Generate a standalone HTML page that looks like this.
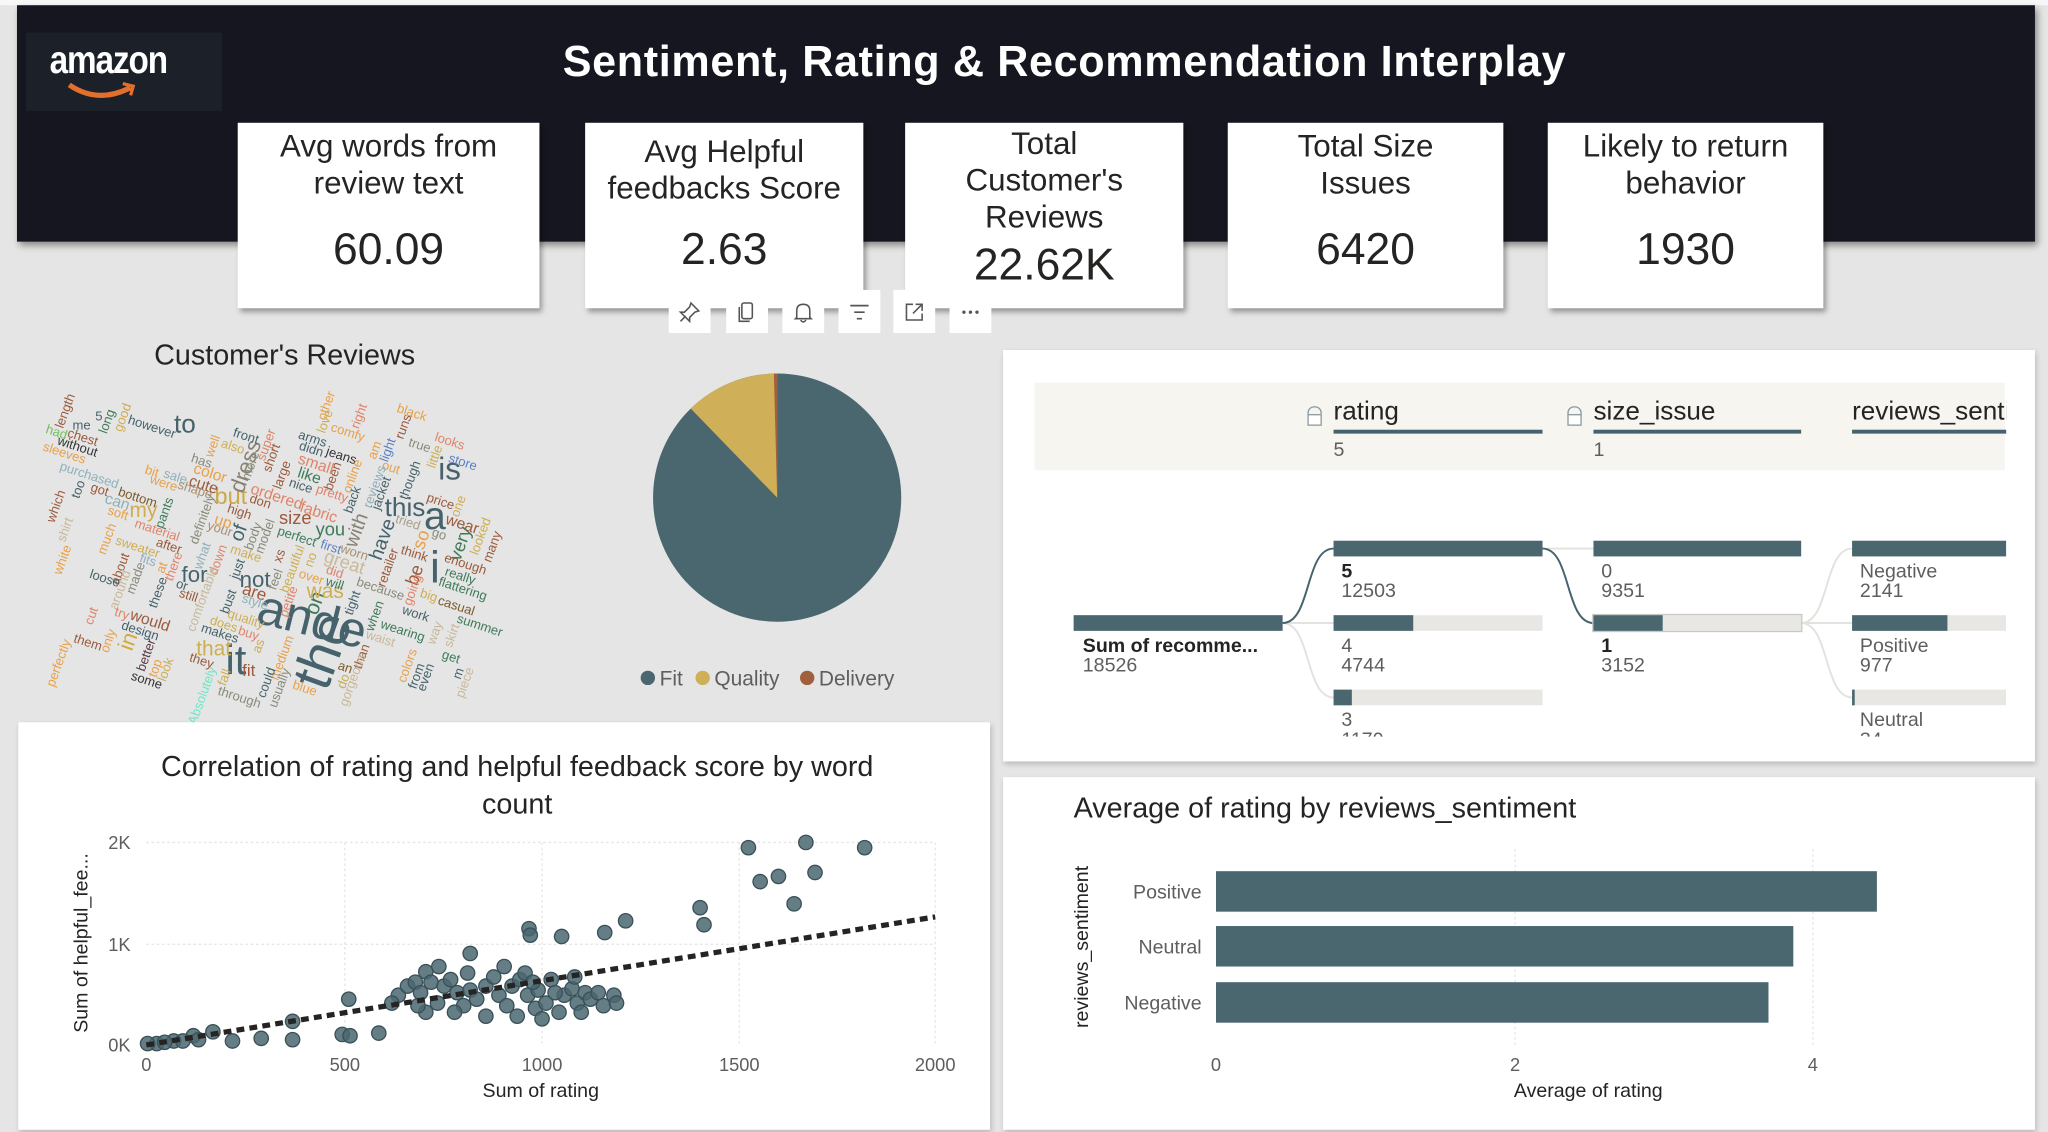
<!DOCTYPE html>
<html><head><meta charset="utf-8"><style>
html,body{margin:0;padding:0;width:2048px;height:1132px;overflow:hidden;background:#e4e5e4}
#s{position:absolute;left:0;top:0;width:1568px;height:867px;transform:scale(1.306122);transform-origin:0 0;font-family:"Liberation Sans",sans-serif;color:#252423}
.a{position:absolute}
.card{position:absolute;background:#fff;top:94px;height:142px;box-shadow:2px 3px 4px rgba(0,0,0,.35);text-align:center}
.card .t{font-size:24px;line-height:28px;margin-top:5px;color:#252423}
.card .v{position:absolute;left:0;right:0;top:78px;font-size:34px;color:#252423}
.ic{position:absolute;top:222px;width:32px;height:33px;background:#fff}
.ic svg{position:absolute;left:7px;top:8px}
.w{position:absolute;left:calc(var(--x)*0.4883px);top:calc(var(--y)*0.2552px + 252.7px);transform:translate(-50%,-50%) rotate(var(--r,0deg));font-size:10px;white-space:nowrap;font-family:"Liberation Sans",sans-serif;line-height:1}
.v70{--r:-70deg}
.d15{--r:18deg}
.lbl{position:absolute;font-size:15px;color:#605e5c;line-height:15px}
.lb{position:absolute;font-size:15px;color:#252423;font-weight:bold;line-height:15px}
.bar{position:absolute;height:12px;background:#e8e7e3}
.bar i{position:absolute;left:0;top:0;bottom:0;background:#4a666f}
</style></head><body><div id="s">
<div class="a" style="left:0;top:0;width:1568px;height:4px;background:#f7f7f7"></div>
<div class="a" style="left:13px;top:4px;width:1545px;height:181px;background:#15161f;box-shadow:2px 3px 5px rgba(0,0,0,.4)"></div>
<div class="a" style="left:20px;top:25px;width:150px;height:60px;background:#1c2129"></div>
<div class="a" style="left:38px;top:30px;font-size:30px;color:#fff;font-weight:bold;letter-spacing:-1px;transform:scaleX(.85);transform-origin:0 0">amazon</div>
<svg class="a" style="left:50px;top:62px" width="60" height="16"><path d="M3 3 Q25 18 50 5" stroke="#e36f2c" stroke-width="4" fill="none"/><path d="M44 2 L52 4 L50 11" stroke="#e36f2c" stroke-width="2.5" fill="none"/></svg>
<div class="a" style="left:360px;top:28px;width:910px;text-align:center;font-size:33px;font-weight:bold;color:#fff;letter-spacing:.5px">Sentiment, Rating &amp; Recommendation Interplay</div>

<div class="card" style="left:182px;width:231px"><div class="t">Avg words from<br>review text</div><div class="v">60.09</div></div>
<div class="card" style="left:448px;width:213px"><div class="t" style="margin-top:9px">Avg Helpful<br>feedbacks Score</div><div class="v">2.63</div></div>
<div class="card" style="left:693px;width:213px"><div class="t" style="margin-top:3px">Total<br>Customer's<br>Reviews</div><div class="v" style="top:90px">22.62K</div></div>
<div class="card" style="left:940px;width:211px"><div class="t">Total Size<br>Issues</div><div class="v">6420</div></div>
<div class="card" style="left:1185px;width:211px"><div class="t">Likely to return<br>behavior</div><div class="v">1930</div></div>

<div class="ic" style="left:512px"><svg width="18" height="18"><path d="M10 2 L16 8 L13 9 L9 13 L9 16 L2 9 L5 9 L9 5 Z M6 12 L2 16" stroke="#555" stroke-width="1.2" fill="none"/></svg></div>
<div class="ic" style="left:556px"><svg width="18" height="18"><rect x="5" y="2" width="8" height="12" rx="1.5" stroke="#555" stroke-width="1.2" fill="none"/><path d="M3 5 L3 16 L11 16" stroke="#555" stroke-width="1.2" fill="none"/></svg></div>
<div class="ic" style="left:599px"><svg width="18" height="18"><path d="M4 13 L4 8 Q4 3 9 3 Q14 3 14 8 L14 13 L15 14 L3 14 Z M7 15 Q9 18 11 15" stroke="#555" stroke-width="1.2" fill="none"/></svg></div>
<div class="ic" style="left:642px"><svg width="18" height="18"><path d="M2 4 H16 M5 9 H13 M7 14 H11" stroke="#555" stroke-width="1.3"/></svg></div>
<div class="ic" style="left:684px"><svg width="18" height="18"><path d="M8 3 H3 V15 H15 V10 M10 3 H15 V8 M15 3 L8 10" stroke="#555" stroke-width="1.2" fill="none"/></svg></div>
<div class="ic" style="left:727px"><svg width="18" height="18"><circle cx="4" cy="9" r="1.3" fill="#555"/><circle cx="9" cy="9" r="1.3" fill="#555"/><circle cx="14" cy="9" r="1.3" fill="#555"/></svg></div>

<div class="a" style="left:118px;top:259px;font-size:22px;color:#252423">Customer's Reviews</div>

<div class="a" style="left:0;top:0;width:420px;height:560px">
<div class="w v70" style="--x:505;--y:960;font-size:42px;color:#46626c">the</div>
<div class="w" style="--x:490;--y:870;font-size:38px;color:#46626c;--r:14deg">ande</div>
<div class="w" style="--x:370;--y:990;font-size:32px;color:#46626c">it</div>
<div class="w" style="--x:682;--y:715;font-size:34px;color:#46626c">i</div>
<div class="w" style="--x:682;--y:560;font-size:30px;color:#46626c">a</div>
<div class="w" style="--x:705;--y:420;font-size:24px;color:#46626c">is</div>
<div class="w" style="--x:635;--y:535;font-size:20px;color:#46626c">this</div>
<div class="w" style="--x:290;--y:285;font-size:20px;color:#46626c">to</div>
<div class="w" style="--x:362;--y:500;font-size:18px;color:#c9a94a">but</div>
<div class="w v70" style="--x:385;--y:410;font-size:17px;color:#8a8275">dress</div>
<div class="w" style="--x:400;--y:750;font-size:17px;color:#46626c">not</div>
<div class="w" style="--x:305;--y:735;font-size:17px;color:#46626c">for</div>
<div class="w v70" style="--x:200;--y:935;font-size:17px;color:#d4a93a">in</div>
<div class="w v70" style="--x:495;--y:820;font-size:16px;color:#3f7a5a">on</div>
<div class="w v70" style="--x:560;--y:600;font-size:15px;color:#8a8275">with</div>
<div class="w v70" style="--x:600;--y:630;font-size:15px;color:#46626c">have</div>
<div class="w v70" style="--x:660;--y:630;font-size:14px;color:#e8a04a">so</div>
<div class="w v70" style="--x:720;--y:640;font-size:14px;color:#3f7a5a">very</div>
<div class="w v70" style="--x:650;--y:735;font-size:14px;color:#9b5a3c">be</div>
<div class="w" style="--x:510;--y:790;font-size:16px;color:#cfae52">was</div>
<div class="w" style="--x:335;--y:960;font-size:16px;color:#cfae52">that</div>
<div class="w v70" style="--x:375;--y:610;font-size:15px;color:#46626c">of</div>
<div class="w" style="--x:225;--y:545;font-size:16px;color:#cfae52">my</div>
<div class="w" style="--x:463;--y:560;font-size:14px;color:#9b5a3c">size</div>
<div class="w" style="--x:518;--y:598;font-size:14px;color:#3f7a5a">you</div>
<div class="w" style="--x:390;--y:1020;font-size:13px;color:#9b5a3c">fit</div>
<div class="w v70" style="--x:105;--y:245;color:#9b5a3c">length</div>
<div class="w" style="--x:128;--y:290;color:#46626c">me</div>
<div class="w" style="--x:155;--y:262;color:#46626c">5</div>
<div class="w v70" style="--x:170;--y:275;color:#3f7a5a">long</div>
<div class="w v70" style="--x:195;--y:265;color:#cfae52">good</div>
<div class="w d15" style="--x:238;--y:295;color:#46626c">however</div>
<div class="w d15" style="--x:88;--y:310;color:#6fbf5f">had</div>
<div class="w d15" style="--x:130;--y:325;color:#9b5a3c">chest</div>
<div class="w d15" style="--x:120;--y:355;color:#333">without</div>
<div class="w d15" style="--x:100;--y:375;color:#e8a04a">sleeves</div>
<div class="w d15" style="--x:385;--y:322;color:#46626c">front</div>
<div class="w v70" style="--x:335;--y:350;color:#e8a04a">well</div>
<div class="w d15" style="--x:365;--y:355;color:#cfae52">also</div>
<div class="w d15" style="--x:315;--y:395;color:#8a8a7a">has</div>
<div class="w v70" style="--x:420;--y:345;color:#e0836a">super</div>
<div class="w v70" style="--x:428;--y:385;color:#9b5a3c">short</div>
<div class="w v70" style="--x:395;--y:410;color:#8a8a7a">more</div>
<div class="w d15" style="--x:490;--y:330;color:#46626c">arms</div>
<div class="w d15" style="--x:488;--y:360;color:#46626c">didn</div>
<div class="w d15" style="--x:535;--y:380;color:#333">jeans</div>
<div class="w d15" style="--x:495;--y:400;color:#e0836a;font-size:12px">small</div>
<div class="w d15" style="--x:485;--y:435;color:#3f7a5a;font-size:12px">like</div>
<div class="w v70" style="--x:445;--y:435;color:#9b5a3c">large</div>
<div class="w d15" style="--x:470;--y:470;color:#46626c">nice</div>
<div class="w v70" style="--x:525;--y:440;color:#9b5a3c">been</div>
<div class="w v70" style="--x:555;--y:440;color:#e8a04a">online</div>
<div class="w d15" style="--x:520;--y:495;color:#e0836a">pretty</div>
<div class="w v70" style="--x:515;--y:230;color:#e8a04a">other</div>
<div class="w v70" style="--x:513;--y:275;color:#cfae52">love</div>
<div class="w d15" style="--x:545;--y:310;color:#e8a04a">comfy</div>
<div class="w v70" style="--x:565;--y:260;color:#e0836a">right</div>
<div class="w d15" style="--x:645;--y:250;color:#e8a04a">black</div>
<div class="w v70" style="--x:635;--y:290;color:#9b5a3c">runs</div>
<div class="w d15" style="--x:658;--y:350;color:#8a8a7a">true</div>
<div class="w d15" style="--x:705;--y:340;color:#e0836a">looks</div>
<div class="w v70" style="--x:590;--y:360;color:#e8a04a">am</div>
<div class="w v70" style="--x:610;--y:360;color:#5b7fc4">light</div>
<div class="w d15" style="--x:612;--y:415;color:#e8a04a">out</div>
<div class="w v70" style="--x:685;--y:380;color:#cfae52">little</div>
<div class="w d15" style="--x:725;--y:400;color:#5b7fc4">store</div>
<div class="w v70" style="--x:645;--y:450;color:#46626c">though</div>
<div class="w v70" style="--x:590;--y:470;color:#8fb0ba">reviews</div>
<div class="w v70" style="--x:600;--y:490;color:#46626c">jacket</div>
<div class="w v70" style="--x:555;--y:510;color:#46626c">back</div>
<div class="w d15" style="--x:140;--y:440;color:#8fb0ba">purchased</div>
<div class="w d15" style="--x:237;--y:430;color:#e8a04a">bit</div>
<div class="w d15" style="--x:275;--y:445;color:#8fb0ba">sale</div>
<div class="w d15" style="--x:330;--y:430;color:#e8a04a;font-size:12px">color</div>
<div class="w d15" style="--x:255;--y:465;color:#e8a04a">were</div>
<div class="w d15" style="--x:305;--y:485;color:#a89070">shape</div>
<div class="w d15" style="--x:320;--y:465;color:#9b5a3c;font-size:12px">cute</div>
<div class="w d15" style="--x:435;--y:500;color:#e0836a;font-size:12px">ordered</div>
<div class="w d15" style="--x:408;--y:520;color:#9b5a3c">don</div>
<div class="w d15" style="--x:500;--y:545;color:#e0836a;font-size:12px">fabric</div>
<div class="w d15" style="--x:690;--y:520;color:#9b5a3c">price</div>
<div class="w v70" style="--x:720;--y:530;color:#cfae52">one</div>
<div class="w v70" style="--x:90;--y:530;color:#9b5a3c">which</div>
<div class="w v70" style="--x:125;--y:480;color:#46626c">too</div>
<div class="w d15" style="--x:155;--y:485;color:#9b5a3c">got</div>
<div class="w d15" style="--x:185;--y:515;color:#8fb0ba;font-size:12px">can</div>
<div class="w d15" style="--x:215;--y:505;color:#7a5a2a">bottom</div>
<div class="w v70" style="--x:260;--y:550;color:#3f7a5a">pants</div>
<div class="w d15" style="--x:185;--y:555;color:#e8a04a">soft</div>
<div class="w d15" style="--x:375;--y:550;color:#9b5a3c">high</div>
<div class="w d15" style="--x:350;--y:575;color:#e8a04a;font-size:12px">up</div>
<div class="w v70" style="--x:320;--y:570;color:#8a8a7a">definitely</div>
<div class="w d15" style="--x:345;--y:600;color:#a89070">your</div>
<div class="w v70" style="--x:400;--y:620;color:#8a8a7a">body</div>
<div class="w v70" style="--x:418;--y:620;color:#8a8a7a">model</div>
<div class="w d15" style="--x:638;--y:580;color:#a8a090">tried</div>
<div class="w d15" style="--x:725;--y:580;color:#9b5a3c;font-size:12px">wear</div>
<div class="w d15" style="--x:688;--y:615;color:#8a8a7a">go</div>
<div class="w v70" style="--x:755;--y:620;color:#cfae52">looked</div>
<div class="w v70" style="--x:775;--y:650;color:#9b5a3c">many</div>
<div class="w v70" style="--x:105;--y:600;color:#c9b89a">shirt</div>
<div class="w v70" style="--x:170;--y:630;color:#e8a04a">much</div>
<div class="w d15" style="--x:245;--y:605;color:#e0836a">material</div>
<div class="w d15" style="--x:215;--y:655;color:#cfae52">sweater</div>
<div class="w d15" style="--x:265;--y:650;color:#9b5a3c">after</div>
<div class="w d15" style="--x:465;--y:625;color:#3f7a5a">perfect</div>
<div class="w d15" style="--x:518;--y:655;color:#5b7fc4">first</div>
<div class="w d15" style="--x:555;--y:670;color:#a89070">worn</div>
<div class="w d15" style="--x:650;--y:675;color:#9b5a3c">think</div>
<div class="w d15" style="--x:730;--y:705;color:#9b5a3c">enough</div>
<div class="w d15" style="--x:720;--y:740;color:#3f7a5a">really</div>
<div class="w d15" style="--x:725;--y:780;color:#3f7a5a">flattering</div>
<div class="w v70" style="--x:100;--y:690;color:#e8a04a">white</div>
<div class="w v70" style="--x:190;--y:720;color:#9b5a3c">about</div>
<div class="w d15" style="--x:232;--y:695;color:#8fb0ba">fits</div>
<div class="w v70" style="--x:255;--y:715;color:#e8a04a">at</div>
<div class="w v70" style="--x:275;--y:710;color:#e0836a">there</div>
<div class="w v70" style="--x:320;--y:680;color:#8fb0ba">what</div>
<div class="w v70" style="--x:345;--y:690;color:#e0836a">down</div>
<div class="w d15" style="--x:385;--y:675;color:#cfae52">make</div>
<div class="w v70" style="--x:440;--y:680;color:#9b5a3c">xs</div>
<div class="w d15" style="--x:540;--y:695;color:#c9b89a;font-size:14px">great</div>
<div class="w v70" style="--x:490;--y:690;color:#cfae52">no</div>
<div class="w v70" style="--x:610;--y:715;color:#9b5a3c">retailer</div>
<div class="w d15" style="--x:525;--y:730;color:#e0836a">did</div>
<div class="w d15" style="--x:163;--y:750;color:#46626c">loose</div>
<div class="w v70" style="--x:190;--y:780;color:#c9b89a">around</div>
<div class="w v70" style="--x:215;--y:745;color:#8a8a7a">made</div>
<div class="w v70" style="--x:250;--y:790;color:#46626c">these</div>
<div class="w d15" style="--x:285;--y:770;color:#46626c">or</div>
<div class="w d15" style="--x:295;--y:800;color:#9b5a3c">still</div>
<div class="w v70" style="--x:320;--y:810;color:#c9b89a">comfortable</div>
<div class="w v70" style="--x:375;--y:720;color:#46626c">just</div>
<div class="w d15" style="--x:400;--y:785;color:#9b5a3c;font-size:13px">are</div>
<div class="w v70" style="--x:435;--y:750;color:#8a8a7a">feel</div>
<div class="w v70" style="--x:460;--y:720;color:#cfae52">beautiful</div>
<div class="w d15" style="--x:488;--y:745;color:#e8a04a">over</div>
<div class="w d15" style="--x:525;--y:765;color:#3f7a5a">will</div>
<div class="w d15" style="--x:595;--y:780;color:#8a8a7a">because</div>
<div class="w v70" style="--x:650;--y:780;color:#e0836a">going</div>
<div class="w d15" style="--x:672;--y:800;color:#cfae52">big</div>
<div class="w d15" style="--x:715;--y:830;color:#7a5a2a">casual</div>
<div class="w v70" style="--x:145;--y:860;color:#e0836a">cut</div>
<div class="w d15" style="--x:190;--y:855;color:#e0836a">try</div>
<div class="w d15" style="--x:235;--y:870;color:#9b5a3c;font-size:12px">would</div>
<div class="w d15" style="--x:220;--y:905;color:#46626c">design</div>
<div class="w d15" style="--x:400;--y:820;color:#8fb0ba">style</div>
<div class="w v70" style="--x:360;--y:815;color:#46626c">bust</div>
<div class="w d15" style="--x:385;--y:870;color:#cfae52">quality</div>
<div class="w d15" style="--x:350;--y:885;color:#cfae52">does</div>
<div class="w d15" style="--x:345;--y:915;color:#46626c">makes</div>
<div class="w d15" style="--x:390;--y:915;color:#e0836a">buy</div>
<div class="w v70" style="--x:455;--y:815;color:#e0836a">petite</div>
<div class="w v70" style="--x:555;--y:820;color:#46626c">tight</div>
<div class="w v70" style="--x:590;--y:860;color:#3f7a5a">when</div>
<div class="w d15" style="--x:652;--y:855;color:#46626c">work</div>
<div class="w d15" style="--x:630;--y:905;color:#3f7a5a">wearing</div>
<div class="w d15" style="--x:595;--y:930;color:#c9b89a">waist</div>
<div class="w d15" style="--x:752;--y:890;color:#3f7a5a">summer</div>
<div class="w v70" style="--x:685;--y:910;color:#c9b89a">way</div>
<div class="w d15" style="--x:138;--y:940;color:#9b5a3c">them</div>
<div class="w v70" style="--x:172;--y:935;color:#e8a04a">only</div>
<div class="w v70" style="--x:232;--y:975;color:#5a3a4a">better</div>
<div class="w v70" style="--x:245;--y:1015;color:#e8a04a">top</div>
<div class="w v70" style="--x:262;--y:1020;color:#cfae52">look</div>
<div class="w d15" style="--x:230;--y:1055;color:#333">some</div>
<div class="w v70" style="--x:95;--y:1000;color:#e8a04a">perfectly</div>
<div class="w d15" style="--x:315;--y:995;color:#9b5a3c">they</div>
<div class="w v70" style="--x:445;--y:985;color:#e8a04a">medium</div>
<div class="w v70" style="--x:408;--y:950;color:#cfae52">as</div>
<div class="w d15" style="--x:540;--y:1015;color:#7a5a2a">an</div>
<div class="w v70" style="--x:570;--y:980;color:#9b5a3c">than</div>
<div class="w v70" style="--x:710;--y:920;color:#c9b89a">skirt</div>
<div class="w d15" style="--x:707;--y:985;color:#3f7a5a">get</div>
<div class="w v70" style="--x:640;--y:1010;color:#e8a04a">colors</div>
<div class="w v70" style="--x:655;--y:1040;color:#46626c">from</div>
<div class="w v70" style="--x:670;--y:1045;color:#46626c">even</div>
<div class="w v70" style="--x:720;--y:1030;color:#46626c">m</div>
<div class="w v70" style="--x:732;--y:1060;color:#c9b89a">piece</div>
<div class="w v70" style="--x:320;--y:1100;color:#6ee6c9">Absolutely</div>
<div class="w v70" style="--x:355;--y:1045;color:#cfae52">fall</div>
<div class="w d15" style="--x:375;--y:1105;color:#8a8a7a">through</div>
<div class="w v70" style="--x:420;--y:1060;color:#46626c">could</div>
<div class="w v70" style="--x:440;--y:1075;color:#8a8a7a">usually</div>
<div class="w d15" style="--x:478;--y:1080;color:#e8a04a">blue</div>
<div class="w v70" style="--x:540;--y:1055;color:#cfae52">do</div>
<div class="w v70" style="--x:555;--y:1050;color:#c9b89a">gorgeous</div>
</div>

<svg class="a" style="left:490px;top:276px" width="220" height="260">
<circle cx="105" cy="105" r="95" fill="#4a666f"/>
<path d="M105 105 L105 10 A95 95 0 0 0 38.8 36.8 Z" fill="#cfb059"/>
<path d="M105 105 L105 10 A95 95 0 0 0 102.5 10 Z" fill="#a0603e"/>
<circle cx="6" cy="243" r="5.5" fill="#4a666f"/><text x="15" y="249" font-size="16" fill="#605e5c" font-family="Liberation Sans">Fit</text>
<circle cx="48" cy="243" r="5.5" fill="#cfb059"/><text x="57" y="249" font-size="16" fill="#605e5c" font-family="Liberation Sans">Quality</text>
<circle cx="128" cy="243" r="5.5" fill="#a0603e"/><text x="137" y="249" font-size="16" fill="#605e5c" font-family="Liberation Sans">Delivery</text>
</svg>

<div class="a" style="left:768px;top:268px;width:790px;height:315px;background:#fff;box-shadow:1px 2px 4px rgba(0,0,0,.2)"></div>
<div class="a" style="left:792px;top:293px;width:743px;height:67px;background:#f6f5f0"></div>
<div class="a" style="left:768px;top:268px;width:768px;height:296px;overflow:hidden">
 <div class="a" style="left:233px;top:43px;width:11px;height:8px;border:1.5px solid #8a9aa0;border-radius:5px 5px 1px 1px;box-sizing:border-box"></div>
 <div class="a" style="left:233px;top:49px;width:11px;height:9px;border:1.5px solid #8a9aa0;box-sizing:border-box;background:#fff"></div>
 <div class="a" style="left:253px;top:36px;font-size:20px;color:#252423">rating</div>
 <div class="a" style="left:253px;top:61px;width:160px;height:3px;background:#46626c"></div>
 <div class="lbl" style="left:253px;top:69px">5</div>
 <div class="a" style="left:432px;top:43px;width:11px;height:8px;border:1.5px solid #8a9aa0;border-radius:5px 5px 1px 1px;box-sizing:border-box"></div>
 <div class="a" style="left:432px;top:49px;width:11px;height:9px;border:1.5px solid #8a9aa0;box-sizing:border-box;background:#fff"></div>
 <div class="a" style="left:452px;top:36px;font-size:20px;color:#252423">size_issue</div>
 <div class="a" style="left:452px;top:61px;width:159px;height:3px;background:#46626c"></div>
 <div class="lbl" style="left:452px;top:69px">1</div>
 <div class="a" style="left:650px;top:36px;font-size:20px;color:#252423;white-space:nowrap">reviews_sentiment</div>
 <div class="a" style="left:650px;top:61px;width:130px;height:3px;background:#46626c"></div>

 <svg class="a" style="left:0;top:0" width="768" height="296">
  <path d="M214 209 C233 209 234 209 253 209" stroke="#e2e2de" stroke-width="1.5" fill="none"/>
  <path d="M214 209 C236 209 231 266 253 266" stroke="#e2e2de" stroke-width="1.5" fill="none"/>
  <path d="M214 209 C236 209 231 152 253 152" stroke="#46626c" stroke-width="1.5" fill="none"/>
  <path d="M413 152 C432 152 433 152 452 152" stroke="#e2e2de" stroke-width="1.5" fill="none"/>
  <path d="M413 152 C435 152 430 209 452 209" stroke="#46626c" stroke-width="1.5" fill="none"/>
  <path d="M611 209 C633 209 628 152 650 152" stroke="#e2e2de" stroke-width="1.5" fill="none"/>
  <path d="M611 209 C630 209 631 209 650 209" stroke="#e2e2de" stroke-width="1.5" fill="none"/>
  <path d="M611 209 C633 209 628 266 650 266" stroke="#e2e2de" stroke-width="1.5" fill="none"/>
 </svg>
 <div class="bar" style="left:54px;top:203px;width:160px"><i style="width:160px"></i></div>
 <div class="lb" style="left:61px;top:219px">Sum of recomme...</div>
 <div class="lbl" style="left:61px;top:234px">18526</div>
 <div class="bar" style="left:253px;top:146px;width:160px"><i style="width:160px"></i></div>
 <div class="lb" style="left:259px;top:162px">5</div><div class="lbl" style="left:259px;top:177px">12503</div>
 <div class="bar" style="left:253px;top:203px;width:160px"><i style="width:61px"></i></div>
 <div class="lbl" style="left:259px;top:219px">4</div><div class="lbl" style="left:259px;top:234px">4744</div>
 <div class="bar" style="left:253px;top:260px;width:160px"><i style="width:14px"></i></div>
 <div class="lbl" style="left:259px;top:276px">3</div><div class="lbl" style="left:259px;top:291px">1170</div>
 <div class="bar" style="left:452px;top:146px;width:159px"><i style="width:159px"></i></div>
 <div class="lbl" style="left:458px;top:162px">0</div><div class="lbl" style="left:458px;top:177px">9351</div>
 <div class="bar" style="left:452px;top:203px;width:159px;outline:1.5px solid #c8c8c4"><i style="width:53px"></i></div>
 <div class="lb" style="left:458px;top:219px">1</div><div class="lbl" style="left:458px;top:234px">3152</div>
 <div class="bar" style="left:650px;top:146px;width:118px"><i style="width:118px"></i></div>
 <div class="lbl" style="left:656px;top:162px">Negative</div><div class="lbl" style="left:656px;top:177px">2141</div>
 <div class="bar" style="left:650px;top:203px;width:118px"><i style="width:73px"></i></div>
 <div class="lbl" style="left:656px;top:219px">Positive</div><div class="lbl" style="left:656px;top:234px">977</div>
 <div class="bar" style="left:650px;top:260px;width:118px"><i style="width:2px"></i></div>
 <div class="lbl" style="left:656px;top:276px">Neutral</div><div class="lbl" style="left:656px;top:291px">34</div>
</div>

<div class="a" style="left:14px;top:553px;width:744px;height:312px;background:#fff;box-shadow:1px 2px 4px rgba(0,0,0,.2)"></div>
<div class="a" style="left:14px;top:572px;width:764px;text-align:center;font-size:22px;line-height:29px;color:#252423">Correlation of rating and helpful feedback score by word<br>count</div>
<svg class="a" style="left:0;top:0" width="768" height="867" font-family="Liberation Sans">
 <g stroke="#e6e6e6" stroke-dasharray="2,2" stroke-width="1">
  <line x1="112" y1="645" x2="716" y2="645"/><line x1="112" y1="723" x2="716" y2="723"/>
  <line x1="264" y1="645" x2="264" y2="800"/><line x1="415" y1="645" x2="415" y2="800"/><line x1="566" y1="645" x2="566" y2="800"/><line x1="716" y1="645" x2="716" y2="800"/>
 </g>
 <g fill="#605e5c" font-size="14" text-anchor="end"><text x="100" y="650">2K</text><text x="100" y="728">1K</text><text x="100" y="805">0K</text></g>
 <g fill="#605e5c" font-size="14" text-anchor="middle"><text x="112" y="820">0</text><text x="264" y="820">500</text><text x="415" y="820">1000</text><text x="566" y="820">1500</text><text x="716" y="820">2000</text>
 <text x="414" y="840" font-size="15" fill="#252423">Sum of rating</text>
 <text transform="translate(67,722) rotate(-90)" font-size="15" fill="#252423">Sum of helpful_fee...</text></g>
 <g fill="#4a666f" fill-opacity=".85" stroke="#3a5058" stroke-width="1">
 <circle cx="573" cy="649" r="5.5"/><circle cx="617" cy="645" r="5.5"/><circle cx="662" cy="649" r="5.5"/><circle cx="582" cy="675" r="5.5"/><circle cx="596" cy="671" r="5.5"/><circle cx="624" cy="668" r="5.5"/><circle cx="608" cy="692" r="5.5"/><circle cx="536" cy="695" r="5.5"/><circle cx="539" cy="708" r="5.5"/><circle cx="463" cy="714" r="5.5"/><circle cx="479" cy="705" r="5.5"/><circle cx="430" cy="717" r="5.5"/><circle cx="405" cy="711" r="5.5"/><circle cx="406" cy="716" r="5.5"/><circle cx="360" cy="730" r="5.5"/><circle cx="326" cy="744" r="5.5"/><circle cx="267" cy="765" r="5.5"/><circle cx="224" cy="782" r="5.5"/><circle cx="178" cy="797" r="5.5"/><circle cx="163" cy="790" r="5.5"/><circle cx="148" cy="793" r="5.5"/><circle cx="133" cy="797" r="5.5"/><circle cx="120" cy="799" r="5.5"/><circle cx="113" cy="799" r="5.5"/><circle cx="126" cy="798" r="5.5"/><circle cx="140" cy="797" r="5.5"/><circle cx="152" cy="796" r="5.5"/><circle cx="262" cy="792" r="5.5"/><circle cx="268" cy="793" r="5.5"/><circle cx="290" cy="791" r="5.5"/><circle cx="224" cy="796" r="5.5"/><circle cx="200" cy="795" r="5.5"/>
 <circle cx="305" cy="762" r="5.5"/><circle cx="312" cy="755" r="5.5"/><circle cx="318" cy="752" r="5.5"/><circle cx="322" cy="760" r="5.5"/><circle cx="330" cy="752" r="5.5"/><circle cx="335" cy="768" r="5.5"/><circle cx="340" cy="755" r="5.5"/><circle cx="345" cy="750" r="5.5"/><circle cx="350" cy="760" r="5.5"/><circle cx="355" cy="770" r="5.5"/><circle cx="348" cy="775" r="5.5"/><circle cx="360" cy="758" r="5.5"/><circle cx="365" cy="765" r="5.5"/><circle cx="372" cy="755" r="5.5"/><circle cx="378" cy="748" r="5.5"/><circle cx="382" cy="762" r="5.5"/><circle cx="388" cy="770" r="5.5"/><circle cx="392" cy="755" r="5.5"/><circle cx="398" cy="750" r="5.5"/><circle cx="402" cy="745" r="5.5"/><circle cx="404" cy="762" r="5.5"/><circle cx="410" cy="772" r="5.5"/><circle cx="412" cy="758" r="5.5"/><circle cx="418" cy="768" r="5.5"/><circle cx="422" cy="750" r="5.5"/><circle cx="428" cy="775" r="5.5"/><circle cx="432" cy="762" r="5.5"/><circle cx="438" cy="757" r="5.5"/><circle cx="442" cy="768" r="5.5"/><circle cx="448" cy="760" r="5.5"/><circle cx="452" cy="765" r="5.5"/><circle cx="458" cy="760" r="5.5"/><circle cx="462" cy="770" r="5.5"/><circle cx="470" cy="762" r="5.5"/><circle cx="472" cy="768" r="5.5"/><circle cx="300" cy="768" r="5.5"/><circle cx="326" cy="775" r="5.5"/><circle cx="336" cy="740" r="5.5"/><circle cx="358" cy="745" r="5.5"/><circle cx="386" cy="740" r="5.5"/><circle cx="396" cy="778" r="5.5"/><circle cx="415" cy="780" r="5.5"/><circle cx="408" cy="752" r="5.5"/><circle cx="425" cy="760" r="5.5"/><circle cx="445" cy="775" r="5.5"/><circle cx="320" cy="770" r="5.5"/><circle cx="372" cy="778" r="5.5"/><circle cx="440" cy="748" r="5.5"/>
 </g>
 <line x1="112" y1="800" x2="716" y2="702" stroke="#252423" stroke-width="4" stroke-dasharray="6,4"/>
</svg>

<div class="a" style="left:768px;top:595px;width:790px;height:270px;background:#fff;box-shadow:1px 2px 4px rgba(0,0,0,.2)"></div>
<div class="a" style="left:822px;top:606px;font-size:22px;color:#252423">Average of rating by reviews_sentiment</div>
<svg class="a" style="left:768px;top:595px" width="790" height="272" font-family="Liberation Sans">
 <g stroke="#e6e6e6" stroke-dasharray="2,2"><line x1="392" y1="55" x2="392" y2="205"/><line x1="620" y1="55" x2="620" y2="205"/></g>
 <rect x="163" y="72" width="506" height="31" fill="#4a666f"/>
 <rect x="163" y="114" width="442" height="31" fill="#4a666f"/>
 <rect x="163" y="157" width="423" height="31" fill="#4a666f"/>
 <g fill="#605e5c" font-size="15" text-anchor="end"><text x="152" y="93">Positive</text><text x="152" y="135">Neutral</text><text x="152" y="178">Negative</text></g>
 <g fill="#605e5c" font-size="14" text-anchor="middle"><text x="163" y="225">0</text><text x="392" y="225">2</text><text x="620" y="225">4</text>
 <text x="448" y="245" font-size="15" fill="#252423">Average of rating</text>
 <text transform="translate(65,130) rotate(-90)" font-size="15" fill="#252423">reviews_sentiment</text></g>
</svg>
</div></body></html>
